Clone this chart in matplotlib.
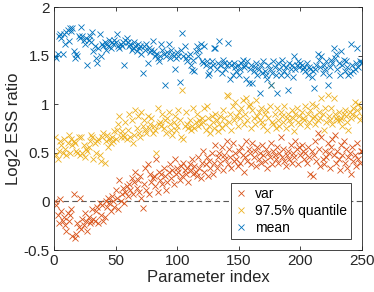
import numpy as np
import matplotlib
matplotlib.use("Agg")
import matplotlib.pyplot as plt

plt.rcParams['font.family'] = ['Liberation Sans', 'DejaVu Sans']

# log2 ESS ratio per parameter
mean_vals = [
    1.50, 1.48, 1.52, 1.70, 1.72, 1.68, 1.52, 1.72, 1.62, 1.74,
    1.76, 1.65, 1.78, 1.75, 1.78, 1.55, 1.48, 1.52, 1.50, 1.70,
    1.68, 1.80, 1.70, 1.66, 1.62, 1.68, 1.40, 1.66, 1.70, 1.64,
    1.74, 1.55, 1.60, 1.48, 1.42, 1.58, 1.72, 1.50, 1.62, 1.60,
    1.64, 1.56, 1.62, 1.60, 1.66, 1.58, 1.64, 1.62, 1.66, 1.64,
    1.72, 1.60, 1.58, 1.62, 1.60, 1.64, 1.40, 1.66, 1.68, 1.64,
    1.60, 1.62, 1.56, 1.58, 1.64, 1.60, 1.55, 1.62, 1.58, 1.60,
    1.52, 1.32, 1.60, 1.56, 1.62, 1.42, 1.58, 1.54, 1.56, 1.65,
    1.55, 1.50, 1.52, 1.48, 1.45, 1.50, 1.62, 1.56, 1.52, 1.20,
    1.50, 1.54, 1.62, 1.48, 1.56, 1.52, 1.50, 1.36, 1.48, 1.54,
    1.50, 1.23, 1.56, 1.73, 1.50, 1.60, 1.48, 1.44, 1.50, 1.52,
    1.40, 1.35, 1.46, 1.34, 1.55, 1.60, 1.50, 1.56, 1.62, 1.45,
    1.42, 1.60, 1.40, 1.44, 1.30, 1.32, 1.38, 1.44, 1.40, 1.58,
    1.58, 1.36, 1.42, 1.65, 1.40, 1.32, 1.46, 1.42, 1.36, 1.40,
    1.63, 1.42, 1.26, 1.40, 1.30, 1.42, 1.38, 1.34, 1.40, 1.30,
    1.36, 1.42, 1.46, 1.38, 1.40, 1.26, 1.44, 1.22, 1.36, 1.40,
    1.22, 1.34, 1.38, 1.42, 1.30, 1.36, 1.12, 1.40, 1.32, 1.44,
    1.34, 1.30, 1.26, 1.40, 1.36, 1.20, 1.32, 1.44, 1.38, 1.30,
    1.12, 1.42, 1.36, 1.30, 1.46, 1.40, 1.34, 1.38, 1.30, 1.15,
    1.42, 1.36, 1.40, 1.28, 1.50, 1.36, 1.40, 1.44, 1.38, 1.42,
    1.40, 1.36, 1.38, 1.34, 1.42, 1.30, 1.38, 1.36, 1.28, 1.34,
    1.17, 1.36, 1.40, 1.52, 1.46, 1.38, 1.50, 1.32, 1.40, 1.36,
    1.44, 1.20, 1.30, 1.38, 1.46, 1.42, 1.58, 1.48, 1.52, 1.36,
    1.42, 1.30, 1.55, 1.40, 1.46, 1.34, 1.44, 1.38, 1.30, 1.32,
    1.62, 1.40, 1.34, 1.36, 1.42, 1.58, 1.38, 1.44, 1.42, 1.43,
]

quant_vals = [
    0.66, 0.48, 0.44, 0.52, 0.62, 0.58, 0.50, 0.64, 0.54, 0.48,
    0.60, 0.68, 0.50, 0.64, 0.58, 0.62, 0.60, 0.52, 0.50, 0.66,
    0.48, 0.66, 0.50, 0.58, 0.46, 0.54, 0.52, 0.56, 0.62, 0.68,
    0.66, 0.44, 0.60, 0.50, 0.62, 0.64, 0.48, 0.42, 0.66, 0.70,
    0.40, 0.62, 0.68, 0.56, 0.64, 0.60, 0.66, 0.62, 0.72, 0.64,
    0.74, 0.80, 0.88, 0.66, 0.72, 0.68, 0.66, 0.82, 0.64, 0.74,
    0.90, 0.66, 0.84, 0.60, 0.68, 0.94, 0.76, 0.88, 0.70, 0.66,
    0.92, 0.78, 0.84, 0.74, 0.70, 0.88, 0.76, 0.80, 0.86, 0.70,
    0.78, 0.74, 0.50, 0.96, 0.80, 0.82, 0.78, 0.90, 0.76, 0.84,
    0.70, 0.86, 0.92, 0.80, 0.74, 0.68, 0.82, 0.88, 0.74, 0.78,
    0.94, 0.84, 0.66, 1.15, 0.64, 0.78, 0.92, 0.80, 0.76, 0.84,
    0.74, 0.78, 0.96, 0.76, 0.82, 0.90, 0.78, 0.84, 0.80, 0.86,
    0.82, 0.96, 0.74, 0.98, 0.86, 0.78, 0.70, 0.88, 0.82, 0.76,
    0.90, 0.84, 0.72, 0.80, 0.88, 0.76, 0.94, 0.86, 0.80, 1.10,
    1.08, 0.82, 0.90, 0.74, 0.98, 0.84, 1.02, 0.88, 0.78, 0.92,
    0.86, 0.96, 1.04, 0.80, 0.90, 1.06, 0.84, 0.98, 1.00, 0.76,
    0.94, 0.86, 0.80, 1.04, 0.88, 0.92, 0.84, 0.96, 0.82, 0.78,
    0.90, 0.94, 0.74, 0.86, 0.98, 1.20, 0.82, 0.80, 0.90, 0.76,
    0.96, 0.84, 0.78, 0.92, 0.88, 0.82, 0.98, 0.76, 0.86, 0.90,
    0.84, 0.80, 0.94, 0.86, 0.72, 0.90, 0.96, 0.82, 0.88, 0.80,
    0.92, 0.86, 0.84, 0.98, 0.78, 0.90, 0.82, 0.94, 1.00, 0.86,
    0.88, 0.80, 0.98, 0.84, 0.92, 0.86, 1.06, 0.90, 0.74, 0.96,
    0.82, 1.10, 0.88, 0.84, 0.96, 0.80, 1.06, 0.90, 0.86, 0.84,
    0.92, 0.84, 0.86, 0.78, 0.90, 0.94, 0.88, 0.82, 0.74, 0.92,
    0.86, 0.90, 0.96, 1.02, 0.88, 0.94, 1.00, 0.84, 0.96, 0.88,
]

var_vals = [
    0.00, -0.04, -0.14, -0.22, 0.02, -0.10, -0.20, -0.16, -0.24, -0.30,
    -0.12, -0.20, -0.14, -0.08, -0.36, 0.08, -0.38, -0.34, -0.22, -0.26,
    0.04, -0.28, -0.18, -0.24, -0.12, -0.20, -0.30, -0.16, -0.22, -0.20,
    -0.08, -0.18, -0.20, -0.10, -0.06, -0.22, -0.02, -0.14, -0.04, -0.20,
    -0.16, 0.00, -0.06, 0.04, -0.02, -0.10, 0.06, 0.00, -0.06, 0.12,
    0.04, -0.08, 0.22, 0.00, 0.08, 0.14, -0.02, 0.10, 0.16, 0.06,
    0.18, 0.12, 0.24, 0.08, 0.20, 0.30, 0.14, 0.22, 0.10, 0.26,
    0.04, -0.07, 0.18, 0.34, 0.12, 0.38, 0.08, 0.28, 0.20, 0.24,
    0.26, 0.16, 0.44, 0.10, 0.30, 0.22, 0.28, 0.18, 0.34, 0.26,
    0.12, 0.20, 0.30, 0.38, 0.24, 0.32, 0.18, 0.44, 0.28, 0.34,
    0.30, 0.22, 0.36, 0.26, 0.40, 0.32, 0.28, 0.34, 0.20, 0.38,
    0.32, 0.44, 0.28, 0.36, 0.30, 0.26, 0.46, 0.34, 0.24, 0.40,
    0.52, 0.30, 0.38, 0.46, 0.26, 0.42, 0.34, 0.50, 0.28, 0.40,
    0.58, 0.34, 0.46, 0.50, 0.40, 0.56, 0.32, 0.48, 0.44, 0.62,
    0.38, 0.54, 0.46, 0.34, 0.60, 0.42, 0.50, 0.44, 0.36, 0.52,
    0.40, 0.56, 0.48, 0.30, 0.46, 0.62, 0.42, 0.54, 0.50, 0.38,
    0.60, 0.46, 0.52, 0.36, 0.56, 0.44, 0.50, 0.40, 0.58, 0.48,
    0.42, 0.54, 0.34, 0.50, 0.46, 0.60, 0.38, 0.52, 0.48, 0.44,
    0.56, 0.40, 0.50, 0.66, 0.46, 0.54, 0.42, 0.36, 0.48, 0.52,
    0.44, 0.58, 0.40, 0.50, 0.46, 0.62, 0.54, 0.38, 0.56, 0.48,
    0.58, 0.52, 0.44, 0.50, 0.40, 0.56, 0.46, 0.28, 0.52, 0.26,
    0.48, 0.62, 0.42, 0.70, 0.54, 0.36, 0.66, 0.44, 0.38, 0.52,
    0.46, 0.60, 0.50, 0.34, 0.56, 0.64, 0.48, 0.68, 0.40, 0.52,
    0.44, 0.32, 0.58, 0.48, 0.62, 0.40, 0.54, 0.34, 0.46, 0.50,
    0.28, 0.56, 0.42, 0.48, 0.36, 0.60, 0.44, 0.40, 0.52, 0.52,
]

idx = np.arange(1, len(mean_vals) + 1)

fig = plt.figure(figsize=(3.74, 2.92), dpi=100)
ax = fig.add_axes([0.1444, 0.1438, 0.8236, 0.832])

ax.plot([0, 250], [0, 0], '--', color='0.35', lw=0.8, dashes=(5, 3))
ax.plot(idx, var_vals, 'x', color=(0.85, 0.325, 0.098), ms=4, mew=0.6, label='var')
ax.plot(idx, quant_vals, 'x', color=(0.929, 0.694, 0.125), ms=4, mew=0.6, label='97.5% quantile')
ax.plot(idx, mean_vals, 'x', color=(0.0, 0.447, 0.741), ms=4, mew=0.6, label='mean')

ax.set_xlim(0, 250)
ax.set_ylim(-0.5, 2)
ax.set_xticks([0, 50, 100, 150, 200, 250])
ax.set_yticks([-0.5, 0, 0.5, 1, 1.5, 2])
ax.set_yticklabels(['-0.5', '0', '0.5', '1', '1.5', '2'])
ax.tick_params(direction='in', top=True, right=True, length=3, width=0.6,
               labelsize=11, colors='0.15', pad=3)
for s in ax.spines.values():
    s.set_color('0.15')
    s.set_linewidth(0.6)

ax.set_xlabel('Parameter index', fontsize=12, color='0.15', labelpad=1)
ax.set_ylabel('Log2 ESS ratio', fontsize=12, color='0.15', labelpad=2)

leg = ax.legend(loc='lower right', fontsize=10, handlelength=0.8, handletextpad=0.6,
                borderpad=0.3, labelspacing=0.2, fancybox=False, framealpha=1,
                edgecolor='0.15', borderaxespad=0.8)
leg.get_frame().set_linewidth(0.6)

fig.savefig('out.png', dpi=100)
